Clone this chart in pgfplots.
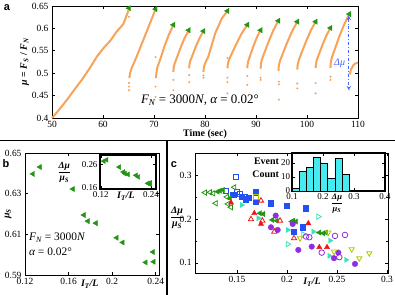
\documentclass[border=0pt]{standalone}
\usepackage{pgfplots}
\pgfplotsset{compat=1.18}
\usepackage{fontspec}
\setmainfont{Liberation Serif}
\setsansfont{Liberation Sans}
\definecolor{orng}{RGB}{247,163,90}
\definecolor{grn}{RGB}{34,150,20}
\definecolor{blu}{RGB}{35,80,240}
\definecolor{dblue}{RGB}{70,100,255}
\definecolor{rd}{RGB}{240,20,20}
\definecolor{aqua}{RGB}{60,225,185}
\definecolor{purp}{RGB}{145,45,225}
\definecolor{ylg}{RGB}{175,195,0}
\definecolor{histc}{RGB}{70,235,240}
\newcommand{\fr}{$\displaystyle\frac{\mbox{\bfseries\itshape Δμ}}{\mbox{\bfseries\itshape μ\textsubscript{S}}}$}
\pgfplotsset{
  every axis/.append style={
    scale only axis,
    axis line style={line width=0.8bp},
    tick style={line width=0.6bp, black},
    major tick length=3bp,
    minor tick length=2bp,
    /pgf/number format/assume math mode=true,
    tick label style={font=\fontsize{9.5}{10}\selectfont},
    label style={font=\fontsize{10}{11}\selectfont\bfseries},
  },
}
\begin{document}
\begin{tikzpicture}[x=1bp,y=1bp]
\path[use as bounding box] (0,0) rectangle (395,295);
\draw[line width=1.6bp] (0,154.5) -- (395,154.5);
\draw[line width=1.6bp] (167,0) -- (167,154.5);
\node[font=\sffamily\bfseries\fontsize{11}{12}\selectfont] at (7,287) {a};
\node[font=\sffamily\bfseries\fontsize{11}{12}\selectfont] at (6,131) {b};
\node[font=\sffamily\bfseries\fontsize{11}{12}\selectfont] at (174,130) {c};
% ---------------- panel a ----------------
\begin{axis}[at={(52bp,177bp)}, anchor=south west, width=306bp, height=112bp,
  xmin=50, xmax=110, ymin=0.4, ymax=0.65,
  xtick={50,60,70,80,90,100,110},
  ytick={0.4,0.45,0.5,0.55,0.6,0.65},
  xlabel={Time (sec)},
  xlabel style={yshift=5bp},
  ylabel={\itshape μ \upshape= \itshape F\textsubscript{S} \upshape/ \itshape F\textsubscript{N}},
  ylabel style={yshift=-4bp},
  clip=false]
\pgfplotsset{ramp/.style={orng, line width=2bp, no marks}}
\addplot[ramp] coordinates {(50,0.400)(51,0.413)(52.9,0.44)(54.5,0.465)(56.1,0.489)(57.5,0.513)(58.8,0.537)(60.1,0.556)(61.4,0.572)(62.7,0.593)(64.0,0.610)(65.0,0.640)};
\addplot[ramp] coordinates {(65.16,0.489)(65.3,0.500)(65.6,0.511)(66.6,0.537)(67.9,0.574)(69.2,0.611)(70.2,0.640)};
\addplot[ramp] coordinates {(70.4,0.489)(70.47,0.501)(70.66,0.513)(71.23,0.531)(72.05,0.560)(72.88,0.585)(73.7,0.605)};
\addplot[ramp] coordinates {(73.8,0.503)(73.86,0.512)(74.03,0.521)(74.53,0.536)(75.25,0.558)(75.98,0.578)(76.7,0.593)};
\addplot[ramp] coordinates {(76.9,0.511)(76.95,0.519)(77.12,0.528)(77.58,0.541)(78.25,0.561)(78.93,0.578)(79.6,0.592)};
\addplot[ramp] coordinates {(79.7,0.503)(79.8,0.515)(80.1,0.524)(80.65,0.537)(81.3,0.562)(82.0,0.589)(82.7,0.607)(83.3,0.6225)(84.3,0.637)};
\addplot[ramp] coordinates {(84.4,0.511)(84.48,0.521)(84.7,0.530)(85.35,0.546)(86.3,0.569)(87.25,0.590)(88.2,0.606)};
\addplot[ramp] coordinates {(88.3,0.511)(88.35,0.520)(88.5,0.528)(88.93,0.542)(89.55,0.562)(90.18,0.580)(90.8,0.594)};
\addplot[ramp] coordinates {(90.9,0.510)(90.97,0.521)(91.17,0.531)(91.75,0.549)(92.6,0.574)(93.45,0.597)(94.3,0.615)};
\addplot[ramp] coordinates {(94.4,0.505)(94.47,0.516)(94.69,0.527)(95.3,0.545)(96.2,0.571)(97.1,0.594)(98.0,0.613)};
\addplot[ramp] coordinates {(98.1,0.508)(98.17,0.519)(98.38,0.529)(98.98,0.547)(99.85,0.572)(100.73,0.595)(101.6,0.613)};
\addplot[ramp] coordinates {(101.7,0.512)(101.76,0.521)(101.92,0.530)(102.4,0.544)(103.1,0.565)(103.8,0.584)(104.5,0.599)};
\addplot[ramp] coordinates {(104.6,0.512)(104.67,0.524)(104.89,0.536)(105.5,0.555)(106.4,0.584)(107.3,0.609)(108.2,0.630)};
\addplot[ramp] coordinates {(108.4,0.497)(108.6,0.508)(109.1,0.518)(109.5,0.522)(110,0.523)};
\addplot[only marks, mark=*, mark size=0.8bp, orng] coordinates {
(65.1,0.478)(65.1,0.470)(65.1,0.462)(65.1,0.626)
(70.3,0.536)(70.3,0.470)(70.3,0.447)
(73.8,0.485)(73.8,0.462)
(76.9,0.496)(76.9,0.480)
(79.7,0.495)(79.7,0.490)
(84.4,0.534)(84.4,0.490)(84.4,0.480)(84.4,0.455)
(88.3,0.494)(88.3,0.474)
(90.9,0.490)(90.9,0.485)
(94.5,0.481)(94.5,0.475)(94.5,0.441)
(98.1,0.477)(98.1,0.466)
(101.7,0.478)(101.7,0.455)
(104.6,0.492)(104.6,0.485)
(108.3,0.464)};
\addplot[only marks, mark=triangle*, mark size=3bp, grn, mark options={rotate=90}] coordinates {
(65.1,0.645)(70.3,0.643)(73.8,0.608)(76.8,0.596)(79.7,0.594)(84.4,0.639)(88.3,0.608)(90.9,0.596)(94.4,0.617)(98.1,0.615)(101.7,0.615)(104.6,0.601)(108.3,0.632)};
\draw[dblue, line width=0.9bp, dash dot, <->, >=stealth] (axis cs:108.2,0.628) -- (axis cs:108.2,0.462);
\node[dblue, font=\itshape\fontsize{10}{11}\selectfont] at (axis cs:106.4,0.523) {Δμ};
\node[font=\fontsize{13}{14}\selectfont] at (axis cs:79,0.44) {\itshape F\textsubscript{N}\upshape{} = 3000\itshape N\upshape, \itshape α \upshape= 0.02°};
\end{axis}
% ---------------- panel b ----------------
\begin{axis}[at={(25bp,20bp)}, anchor=south west, width=134bp, height=122bp,
  xmin=0.12, xmax=0.243, ymin=0.59, ymax=0.65,
  xtick={0.12,0.16,0.2,0.24}, ytick={0.59,0.61,0.63,0.65},
  clip=false]
\addplot[only marks, mark=triangle*, mark size=3bp, grn, mark options={rotate=90}] coordinates {
(0.1273,0.6397)(0.1337,0.6431)(0.164,0.6323)(0.174,0.6195)(0.1777,0.6165)(0.185,0.6155)(0.2042,0.6083)(0.2097,0.606)(0.2375,0.6013)(0.2308,0.5962)(0.2381,0.5965)};
\node[anchor=west, font=\fontsize{11.5}{12}\selectfont] at (axis cs:0.1205,0.6085) {\itshape F\textsubscript{N}\upshape{} = 3000\itshape N};
\node[anchor=west, font=\fontsize{11.5}{12}\selectfont] at (axis cs:0.1205,0.6015) {\itshape α \upshape= 0.02°};
\node[font=\bfseries\itshape\fontsize{10}{11}\selectfont] at (axis cs:0.1795,0.5855) {I\textsubscript{T}/L};
\node[font=\bfseries\itshape\fontsize{10}{11}\selectfont, rotate=90] at (axis cs:0.1045,0.62) {μ\textsubscript{S}};
\end{axis}
% inset b
\begin{axis}[at={(100bp,106bp)}, anchor=south west, width=56bp, height=34bp,
  xmin=0.118, xmax=0.252, ymin=0.156, ymax=0.30,
  xtick={0.12,0.24}, ytick={0.16,0.26},
  axis line style={line width=1.3bp},
  axis background/.style={fill=white},
  tick label style={font=\fontsize{9}{10}\selectfont},
  xticklabel style={yshift=1bp},
  yticklabel style={xshift=1bp},
  clip=false]
\addplot[only marks, mark=triangle*, mark size=2.8bp, grn, mark options={rotate=90}] coordinates {
(0.1273,0.274)(0.1337,0.2796)(0.164,0.249)(0.174,0.228)(0.1777,0.221)(0.185,0.218)(0.2042,0.214)(0.2097,0.207)(0.2326,0.18)(0.2372,0.177)(0.2381,0.182)};
\node[font=\fontsize{9.5}{10}\selectfont] at (axis cs:0.0325,0.225) {\fr};
\node[font=\bfseries\itshape\fontsize{10}{11}\selectfont] at (axis cs:0.18,0.126) {I\textsubscript{T}/L};
\end{axis}
% ---------------- panel c ----------------
\begin{axis}[at={(195bp,22bp)}, anchor=south west, width=193bp, height=120bp,
  xmin=0.108, xmax=0.301, ymin=0.077, ymax=0.35,
  xtick={0.15,0.2,0.25,0.3}, ytick={0.1,0.2,0.3},
  minor ytick={0.15,0.25},
  clip=false]
\addplot[only marks, mark=square, mark size=2.6bp, blu, line width=0.8bp] coordinates {
(0.1487,0.295)(0.1387,0.264)(0.147,0.2545)(0.153,0.257)(0.158,0.251)(0.150,0.262)};
\addplot[only marks, mark=square*, mark size=2.6bp, blu] coordinates {
(0.1453,0.2545)(0.155,0.251)(0.1587,0.245)(0.1687,0.261)(0.1687,0.239)(0.184,0.2356)(0.1997,0.2295)(0.219,0.2243)(0.2157,0.181)(0.207,0.171)(0.162,0.248)};
\addplot[only marks, mark=square, mark size=2.4bp, ylg, line width=0.8bp] coordinates {(0.1687,0.250)};
\addplot[only marks, mark=triangle, mark size=3bp, grn, line width=0.8bp, mark options={rotate=90}] coordinates {
(0.123,0.2606)(0.1263,0.2583)(0.1287,0.2356)(0.1473,0.272)(0.144,0.2266)(0.141,0.234)(0.118,0.260)(0.140,0.250)};
\addplot[only marks, mark=triangle*, mark size=3bp, grn, mark options={rotate=90}] coordinates {
(0.1307,0.262)(0.133,0.264)(0.136,0.266)(0.143,0.247)(0.173,0.213)(0.1763,0.2113)(0.1853,0.1977)(0.1897,0.196)(0.2047,0.194)(0.2063,0.196)(0.209,0.194)(0.2323,0.169)(0.2363,0.1674)(0.239,0.169)};
\addplot[only marks, mark=triangle, mark size=3bp, rd, line width=0.8bp] coordinates {
(0.174,0.2416)(0.164,0.1993)(0.1753,0.196)(0.1873,0.171)(0.207,0.156)(0.193,0.196)};
\addplot[only marks, mark=triangle*, mark size=3bp, rd] coordinates {
(0.144,0.237)(0.1673,0.213)(0.174,0.1886)(0.2213,0.190)(0.2323,0.1357)(0.240,0.1357)};
\addplot[only marks, mark=triangle*, mark size=3bp, aqua, mark options={rotate=-90}] coordinates {
(0.1547,0.2318)(0.1713,0.2016)(0.2007,0.175)(0.2263,0.171)(0.243,0.1507)(0.259,0.107)(0.2423,0.116)};
\addplot[only marks, mark=triangle, mark size=3bp, aqua, line width=0.8bp, mark options={rotate=-90}] coordinates {
(0.2007,0.1425)(0.2313,0.2053)(0.2163,0.165)};
\addplot[only marks, mark=*, mark size=2.8bp, purp] coordinates {
(0.1887,0.2076)(0.184,0.181)(0.1907,0.175)(0.2057,0.1886)(0.2113,0.1295)(0.2247,0.137)(0.247,0.1107)(0.2513,0.1234)(0.268,0.0977)};
\addplot[only marks, mark=o, mark size=2.8bp, purp, line width=0.8bp] coordinates {
(0.2223,0.1584)(0.2347,0.1234)(0.2523,0.113)(0.248,0.1614)(0.258,0.1636)(0.219,0.160)};
\addplot[only marks, mark=triangle, mark size=3bp, ylg, line width=0.8bp, mark options={rotate=180}] coordinates {
(0.213,0.156)(0.2413,0.169)(0.247,0.1257)(0.2647,0.131)(0.2723,0.1107)(0.2823,0.122)};
\node[font=\fontsize{10}{11}\selectfont] at (axis cs:0.090,0.2025) {\fr};
\node[font=\bfseries\itshape\fontsize{10}{11}\selectfont] at (axis cs:0.225,0.056) {I\textsubscript{T}/L};
\node[anchor=east, align=right, font=\bfseries\fontsize{10}{13}\selectfont] at (axis cs:0.1955,0.317) {Event\\Count};
\end{axis}
% histogram inset
\begin{axis}[at={(292bp,104bp)}, anchor=south west, width=93bp, height=38bp,
  xmin=0.1, xmax=0.4, ymin=0, ymax=27,
  xtick={0.1,0.2,0.3,0.4}, ytick={0,10,20},
  axis line style={line width=1.3bp},
  axis background/.style={fill=white},
  tick label style={font=\fontsize{9}{10}\selectfont},
  xticklabel style={yshift=1bp},
  yticklabel style={xshift=1.5bp},
  clip=false]
\addplot[ybar, bar width=0.023, bar shift=0pt, fill=histc, draw=black, line width=0.5bp] coordinates {
(0.1115,2)(0.1345,14)(0.1575,17)(0.1805,24)(0.2035,20)(0.2265,9)(0.2495,23)(0.2725,12)(0.2965,0.6)(0.3425,0.6)(0.3885,0.6)};
\node[font=\fontsize{8.5}{9}\selectfont] at (axis cs:0.245,-8.8) {\fr};
\end{axis}
\end{tikzpicture}
\end{document}
